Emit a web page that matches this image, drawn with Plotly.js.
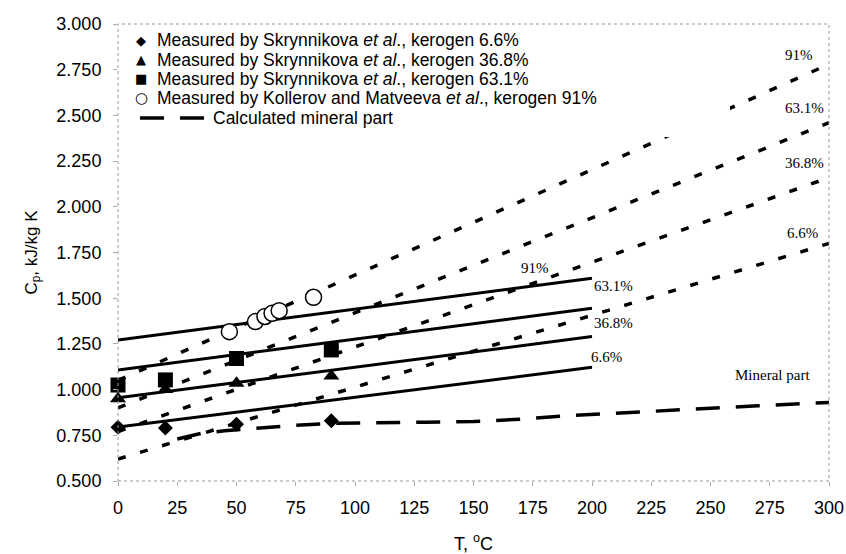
<!DOCTYPE html>
<html>
<head>
<meta charset="utf-8">
<script src="https://cdn.plot.ly/plotly-3.0.1.min.js"></script>
<style>
html,body{margin:0;padding:0;background:#fff;}
#chart{width:846px;height:554px;}
</style>
</head>
<body>
<div id="chart"></div>
<script>
// Measured data
var diamondX = [0, 20, 50, 90];
var diamondY = [0.794, 0.79, 0.81, 0.83];
var triangleX = [0, 20, 50, 90];
var triangleY = [0.95, 1.0, 1.035, 1.075];
var squareX = [0, 20, 50, 90];
var squareY = [1.025, 1.053, 1.17, 1.217];
var circleX = [47, 58, 62, 65, 68, 82.5];
var circleY = [1.317, 1.372, 1.40, 1.417, 1.432, 1.505];

// Solid fitted lines (0..200 °C)
var solidX = [0, 200];
var solid66 = [0.795, 1.122];
var solid368 = [0.955, 1.29];
var solid631 = [1.107, 1.445];
var solid91 = [1.271, 1.609];

// Short-dashed lines (0..300 °C)
var dashX = [0, 300];
var dash66 = [0.62, 1.80];
var dash368 = [0.77, 2.16];
var dash631 = [0.90, 2.46];
var dash91 = [1.05, 2.78];

// Calculated mineral part
var mineralX = [25, 35, 45, 60, 75, 90, 110, 130, 150, 170, 190, 210, 230, 250, 270, 290, 300];
var mineralY = [0.73, 0.76, 0.775, 0.79, 0.805, 0.815, 0.82, 0.822, 0.825, 0.838, 0.857, 0.872, 0.885, 0.898, 0.911, 0.922, 0.93];

// Line labels
var labelText = ['91%', '63.1%', '36.8%', '6.6%', '91%', '63.1%', '36.8%', '6.6%', 'Mineral part'];
var labelX = [176, 209, 209, 206, 287.5, 289.5, 289.5, 289, 276];
var labelY = [1.664, 1.567, 1.363, 1.177, 2.83, 2.539, 2.238, 1.855, 1.08];

var xTicks = [0, 25, 50, 75, 100, 125, 150, 175, 200, 225, 250, 275, 300];
var yTicks = [0.5, 0.75, 1.0, 1.25, 1.5, 1.75, 2.0, 2.25, 2.5, 2.75, 3.0];

// Legend
var legendSymbols = ['\u25C6', '\u25B2', '\u25A0', '\u25CB'];
var legendNames = [
  'Measured by Skrynnikova <i>et al</i>., kerogen 6.6%',
  'Measured by Skrynnikova <i>et al</i>., kerogen 36.8%',
  'Measured by Skrynnikova <i>et al</i>., kerogen 63.1%',
  'Measured by Kollerov and Matveeva <i>et al</i>., kerogen 91%',
  'Calculated mineral part'
];

// plot-area geometry (pixels) used to place legend items in paper coordinates
var W = 846, H = 554, ML = 118, MR = 17, MT = 24, MB = 73;
var PW = W - ML - MR, PH = H - MT - MB;
function px(x){ return (x - ML) / PW; }
function py(y){ return (H - MB - y) / PH; }

function solid(y){ return {x: solidX, y: y, mode:'lines', line:{color:'#000', width:3}, showlegend:false, hoverinfo:'skip'}; }
function dashed(y){ return {x: dashX, y: y, mode:'lines', line:{color:'#000', width:3.5, dash:'8px,15px'}, showlegend:false, hoverinfo:'skip'}; }

var traces = [
  solid(solid66), solid(solid368), solid(solid631), solid(solid91),
  dashed(dash66), dashed(dash368), dashed(dash631), dashed(dash91),
  {x: mineralX, y: mineralY, name: legendNames[4], mode:'lines',
   line:{color:'#000', width:3.5, dash:'24px,16px'}},
  {x: diamondX, y: diamondY, name: legendNames[0], mode:'markers', cliponaxis:false,
   marker:{symbol:'diamond', size:11.5, color:'#000'}},
  {x: triangleX, y: triangleY, name: legendNames[1], mode:'markers', cliponaxis:false,
   marker:{symbol:'triangle-up', size:14, color:'#000'}},
  {x: squareX, y: squareY, name: legendNames[2], mode:'markers', cliponaxis:false,
   marker:{symbol:'square', size:15, color:'#000'}},
  {x: circleX, y: circleY, name: legendNames[3], mode:'markers', cliponaxis:false,
   marker:{symbol:'circle', size:16, color:'#fff', line:{color:'#000', width:1.5}}}
];

var annotations = labelText.map(function(t, i){
  return {x: labelX[i], y: labelY[i], xref:'x', yref:'y', text: t, showarrow:false,
    font:{family:'Liberation Serif, Times New Roman, serif', size:15, color:'#000'}};
});

var rowY = function(i){ return 40 + 19.5 * i; };
legendNames.forEach(function(t, i){
  annotations.push({xref:'paper', yref:'paper', x: px(i < 4 ? 156 : 212), y: py(rowY(i)),
    xanchor:'left', yanchor:'middle', text: t, showarrow:false, borderpad:0,
    font:{family:'Liberation Sans, Arial, sans-serif', size:17.5, color:'#000'}});
});
legendSymbols.forEach(function(s, i){
  annotations.push({xref:'paper', yref:'paper', x: px(141), y: py(rowY(i)),
    xanchor:'center', yanchor:'middle', text: s, showarrow:false, borderpad:0,
    font:{family:'DejaVu Sans, sans-serif', size:(i === 3 ? 15 : 13), color:'#000'}});
});

var layout = {
  width: W, height: H,
  margin: {l:ML, r:MR, t:MT, b:MB},
  paper_bgcolor:'#fff', plot_bgcolor:'#fff',
  font: {family:'Liberation Sans, Arial, sans-serif', size:17, color:'#000'},
  showlegend:false,
  xaxis: {range:[0,300], tickvals: xTicks, ticktext: xTicks.map(String),
    showgrid:false, zeroline:false, showline:false,
    ticks:'outside', ticklen:4, tickcolor:'#aaa', tickwidth:1, ticklabelstandoff:6,
    tickfont:{family:'Liberation Sans Narrow, Arial Narrow, Liberation Sans, sans-serif', size:18},
    title:{text:'T, <sup>o</sup>C', standoff:20,
      font:{family:'Liberation Sans Narrow, Arial Narrow, Liberation Sans, sans-serif', size:18}}},
  yaxis: {range:[0.5,3.0], tickvals: yTicks, tickformat:'.3f',
    showgrid:false, zeroline:false, showline:false,
    ticks:'outside', ticklen:4, tickcolor:'#aaa', tickwidth:1, ticklabelstandoff:8,
    tickfont:{size:18},
    title:{text:'C<sub>p</sub>, kJ/kg K', standoff:14, font:{size:17}}},
  annotations: annotations,
  shapes: [
    {type:'rect', xref:'paper', yref:'paper', x0:0, x1:px(730), y0:py(137), y1:1,
     fillcolor:'#fff', line:{width:0}, layer:'above'},
    {type:'line', xref:'paper', yref:'paper', x0:px(140), x1:px(204), y0:py(rowY(4)), y1:py(rowY(4)),
     line:{color:'#000', width:3.5, dash:'24px,16px'}, layer:'above'},
    {type:'rect', xref:'paper', yref:'paper', x0:0, x1:1, y0:0, y1:1,
     line:{color:'#999', width:1, dash:'dot'}, layer:'above'}
  ]
};

Plotly.newPlot('chart', traces, layout, {displayModeBar:false, staticPlot:true});
</script>
</body>
</html>
